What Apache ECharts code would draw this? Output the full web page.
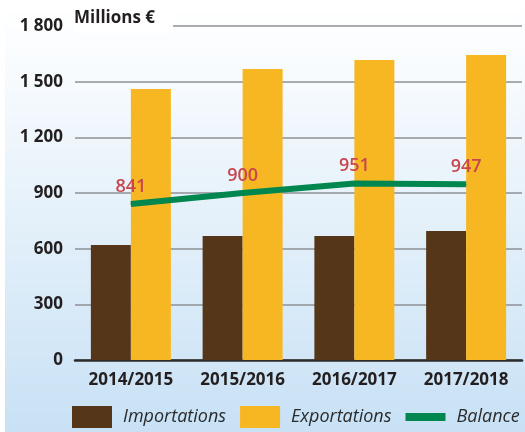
<!DOCTYPE html>
<html>
<head>
<meta charset="utf-8">
<script src="https://cdn.jsdelivr.net/npm/echarts@6/dist/echarts.min.js"></script>
<style>
html, body { margin: 0; padding: 0; background: #fff; }
#chart { width: 525px; height: 432px; }
</style>
</head>
<body>
<div id="chart"></div>
<script>
var categories = ['2014/2015', '2015/2016', '2016/2017', '2017/2018'];
var importations = [620, 668, 668, 695];
var exportations = [1460, 1568, 1617, 1644];
var balance = [841, 900, 951, 947];
var yTicks = [0, 300, 600, 900, 1200, 1500, 1800];

var font = 'Open Sans';

var option = {
    animation: false,
    textStyle: { fontFamily: font },
    graphic: [{
        type: 'rect',
        z: -10,
        shape: { x: 5, y: 0, width: 520, height: 432 },
        style: {
            fill: new echarts.graphic.LinearGradient(0, 0, 0, 1, [
                { offset: 0, color: '#ffffff' },
                { offset: 0.1, color: '#fbfdfe' },
                { offset: 1, color: '#c8e1f5' }
            ])
        }
    }, {
        type: 'text',
        z: 10,
        left: 74,
        top: 8,
        style: {
            text: 'Millions €',
            font: 'bold 17px ' + font,
            fill: '#231f20',
            backgroundColor: '#ffffff',
            padding: [2, 18, 6, 0]
        }
    }],
    grid: {
        left: 75,
        right: 3,
        top: 26,
        bottom: 72
    },
    legend: {
        left: 67,
        top: 401,
        itemWidth: 40,
        itemHeight: 22,
        itemGap: 14,
        textStyle: {
            fontFamily: font,
            fontStyle: 'italic',
            fontSize: 18,
            color: '#2b2b2b',
            padding: [0, 0, 0, 6]
        },
        data: [
            { name: 'Importations', icon: 'rect' },
            { name: 'Exportations', icon: 'rect' },
            { name: 'Balance', icon: 'path://M0,0h40v8h-40z' }
        ]
    },
    xAxis: [{
        type: 'category',
        data: categories,
        axisTick: { show: false },
        axisLine: { lineStyle: { color: '#2b2b2b', width: 2.5 } },
        axisLabel: {
            interval: 0,
            margin: 12,
            color: '#231f20',
            fontWeight: 'bold',
            fontSize: 17
        }
    }],
    yAxis: [{
        type: 'value',
        min: 0,
        max: 1800,
        interval: 300,
        axisLine: { show: false },
        axisTick: { show: false },
        axisLabel: {
            margin: 12,
            color: '#231f20',
            fontWeight: 'bold',
            fontSize: 17,
            formatter: function (v) {
                return yTicks.indexOf(v) >= 0 && v >= 1000 ? Math.floor(v / 1000) + ' ' + String(v % 1000).padStart(3, '0') : String(v);
            }
        },
        splitLine: {
            lineStyle: { color: '#8e9196', width: 1.5 }
        }
    }],
    series: [{
        name: 'Importations',
        type: 'bar',
        barWidth: 40,
        barGap: '0%',
        itemStyle: { color: '#553619' },
        data: importations
    }, {
        name: 'Exportations',
        type: 'bar',
        barWidth: 40,
        itemStyle: { color: '#f7b723' },
        data: exportations
    }, {
        name: 'Balance',
        type: 'line',
        z: 5,
        symbol: 'circle',
        symbolSize: 1,
        showSymbol: true,
        lineStyle: { color: '#00874f', width: 6 },
        itemStyle: { color: '#00874f' },
        label: {
            show: true,
            position: 'top',
            distance: 8,
            color: '#c8474f',
            fontSize: 18,
            fontWeight: 600,
            fontFamily: font
        },
        data: balance
    }]
};

var myChart = echarts.init(document.getElementById('chart'));
myChart.setOption(option);
</script>
</body>
</html>
